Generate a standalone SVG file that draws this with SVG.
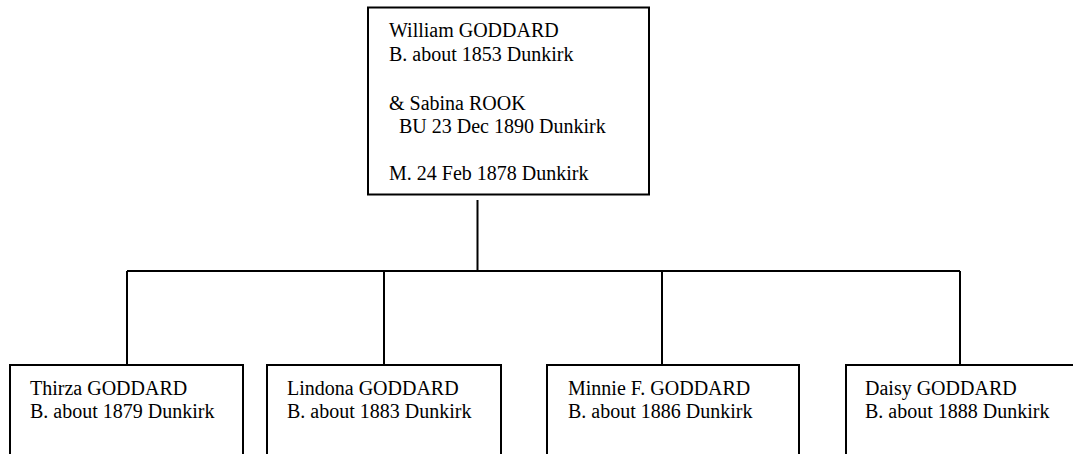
<svg xmlns="http://www.w3.org/2000/svg" width="1073" height="454" viewBox="0 0 1073 454">
<style>
.box{fill:#fff;stroke:#000;stroke-width:2}
.c{stroke:#000;stroke-width:2;fill:none}
text{font-family:"Liberation Serif","Times New Roman",serif;font-size:20px;fill:#000}
</style>
<rect width="1073" height="454" fill="#fff"/>
<g id="connectors">
<path class="c" d="M477.5 200V271M127 271H960M127 271V365M384 271V365M662 271V365M960 271V365"/>
</g>
<g id="parents">
<rect class="box" x="368" y="7.5" width="281" height="187"/>
<text x="389" y="37">William GODDARD</text>
<text x="389" y="61">B. about 1853 Dunkirk</text>
<text x="389" y="110">&amp; Sabina ROOK</text>
<text x="399" y="133">BU 23 Dec 1890 Dunkirk</text>
<text x="389" y="180">M. 24 Feb 1878 Dunkirk</text>
</g>
<g id="thirza">
<rect class="box" x="10" y="365" width="233" height="110"/>
<text x="30" y="395">Thirza GODDARD</text>
<text x="30" y="418">B. about 1879 Dunkirk</text>
</g>
<g id="lindona">
<rect class="box" x="267" y="365" width="234" height="110"/>
<text x="287" y="395">Lindona GODDARD</text>
<text x="287" y="418">B. about 1883 Dunkirk</text>
</g>
<g id="minnie">
<rect class="box" x="547" y="365" width="252" height="110"/>
<text x="568" y="395">Minnie F. GODDARD</text>
<text x="568" y="418">B. about 1886 Dunkirk</text>
</g>
<g id="daisy">
<rect class="box" x="846" y="365" width="240" height="110"/>
<text x="865" y="395">Daisy GODDARD</text>
<text x="865" y="418">B. about 1888 Dunkirk</text>
</g>
</svg>
